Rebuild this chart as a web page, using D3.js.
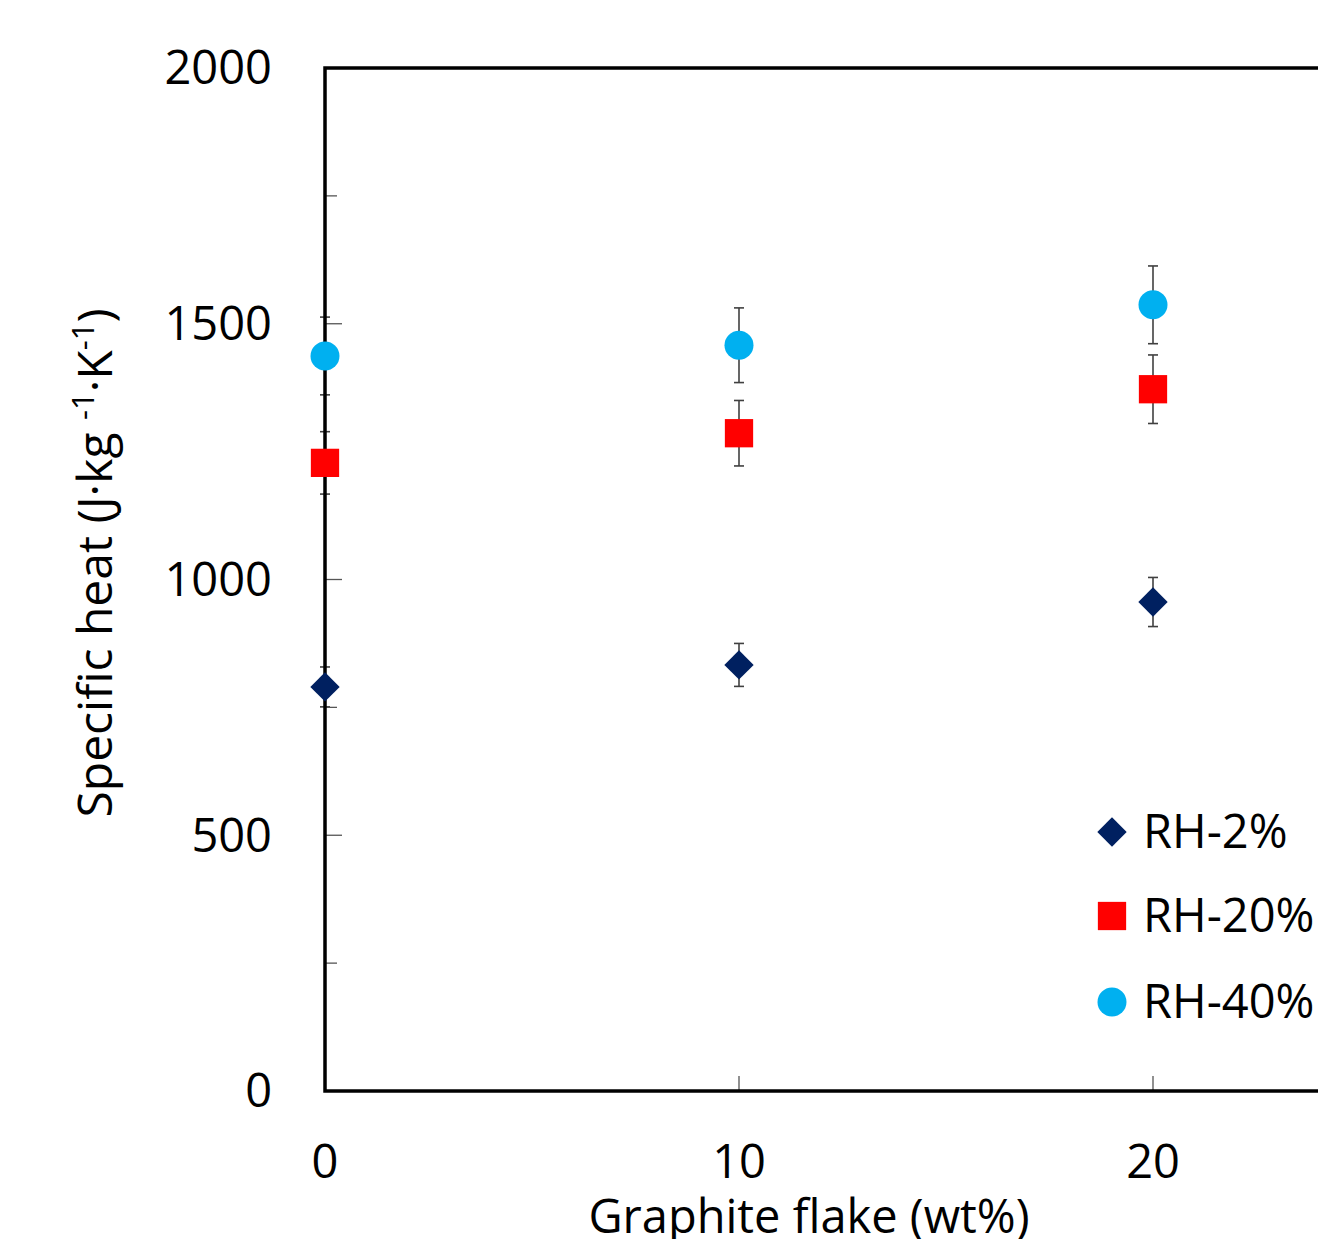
<!DOCTYPE html>
<html><head><meta charset="utf-8">
<script src="https://cdn.jsdelivr.net/npm/d3@7"></script>
<style>body{margin:0;background:#fff}svg{display:block}text{font-family:"Open Sans",sans-serif;fill:#000}</style>
</head><body><svg id="c" width="1318" height="1239"></svg>
<script>
const xValues = [0, 10, 20];
const seriesNames = ["RH-2%", "RH-20%", "RH-40%"];
const rh2 = [790, 833, 956];
const rh2Err = [39, 42, 48];
const rh20 = [1228, 1286, 1372];
const rh20Err = [61, 64, 67];
const rh40 = [1437, 1458, 1537];
const rh40Err = [76, 73, 76];
const yTicks = [0, 500, 1000, 1500, 2000];
const yMinorTicks = [250, 750, 1250, 1750];
const xTicks = [0, 10, 20];

const svg = d3.select("#c");
const x = d3.scaleLinear().domain([0, 30]).range([325, 1567]);
const y = d3.scaleLinear().domain([0, 2000]).range([1091, 68]);
const FS = 47;

const series = [
  {name: seriesNames[0], vals: rh2, err: rh2Err, color: "#002060", shape: d3.symbolSquare, size: 430, rot: 45},
  {name: seriesNames[1], vals: rh20, err: rh20Err, color: "#FF0000", shape: d3.symbolSquare, size: 800, rot: 0},
  {name: seriesNames[2], vals: rh40, err: rh40Err, color: "#00B0F0", shape: d3.symbolCircle, size: 660, rot: 0}
];

// error bars
series.forEach(s => {
  const g = svg.append("g").attr("stroke", "#404040").attr("stroke-width", 1.6);
  xValues.forEach((xv, i) => {
    const cx = x(xv), lo = y(s.vals[i] - s.err[i]), hi = y(s.vals[i] + s.err[i]);
    g.append("line").attr("x1", cx).attr("x2", cx).attr("y1", lo).attr("y2", hi);
    g.append("line").attr("x1", cx - 5).attr("x2", cx + 5).attr("y1", lo).attr("y2", lo);
    g.append("line").attr("x1", cx - 5).attr("x2", cx + 5).attr("y1", hi).attr("y2", hi);
  });
});

// ticks (inside)
const tg = svg.append("g").attr("stroke", "#555").attr("stroke-width", 1.3);
yTicks.forEach(t => tg.append("line").attr("x1", x(0)).attr("x2", x(0) + 17).attr("y1", y(t)).attr("y2", y(t)));
yMinorTicks.forEach(t => tg.append("line").attr("x1", x(0)).attr("x2", x(0) + 12).attr("y1", y(t)).attr("y2", y(t)));
xTicks.forEach(t => tg.append("line").attr("x1", x(t)).attr("x2", x(t)).attr("y1", y(0)).attr("y2", y(0) - 15));

// frame
svg.append("rect").attr("x", x(0)).attr("y", y(2000)).attr("width", x(30) - x(0)).attr("height", y(0) - y(2000))
  .attr("fill", "none").attr("stroke", "#000").attr("stroke-width", 3.5);

// tick labels
yTicks.forEach(t => svg.append("text").attr("x", 272).attr("y", y(t)).attr("dy", "0.35em")
  .attr("text-anchor", "end").attr("font-size", FS).text(t));
xTicks.forEach(t => svg.append("text").attr("x", x(t)).attr("y", 1178)
  .attr("text-anchor", "middle").attr("font-size", FS).text(t));

// axis titles
svg.append("text").attr("x", 809).attr("y", 1233).attr("text-anchor", "middle").attr("font-size", FS)
  .text("Graphite flake (wt%)");
const yt = svg.append("text").attr("transform", "translate(112,563) rotate(-90)")
  .attr("text-anchor", "middle").attr("font-size", 48);
yt.append("tspan").text("Specific heat (J·kg ");
yt.append("tspan").attr("font-size", 31).attr("dy", -18).text("-1");
yt.append("tspan").attr("dy", 18).text("·K");
yt.append("tspan").attr("font-size", 31).attr("dy", -18).text("-1");
yt.append("tspan").attr("dy", 18).text(")");

// markers
series.forEach(s => {
  const sym = d3.symbol().type(s.shape).size(s.size);
  svg.append("g").selectAll("path").data(s.vals).join("path")
    .attr("d", sym)
    .attr("transform", (d, i) => `translate(${x(xValues[i])},${y(d)}) rotate(${s.rot})`)
    .attr("fill", s.color);
});

// legend
const legY = [832, 916, 1002];
series.forEach((s, i) => {
  svg.append("path").attr("d", d3.symbol().type(s.shape).size(s.size))
    .attr("transform", `translate(1112,${legY[i]}) rotate(${s.rot})`).attr("fill", s.color);
  svg.append("text").attr("x", 1143).attr("y", legY[i]).attr("dy", "0.35em").attr("font-size", FS).text(s.name);
});
</script></body></html>
